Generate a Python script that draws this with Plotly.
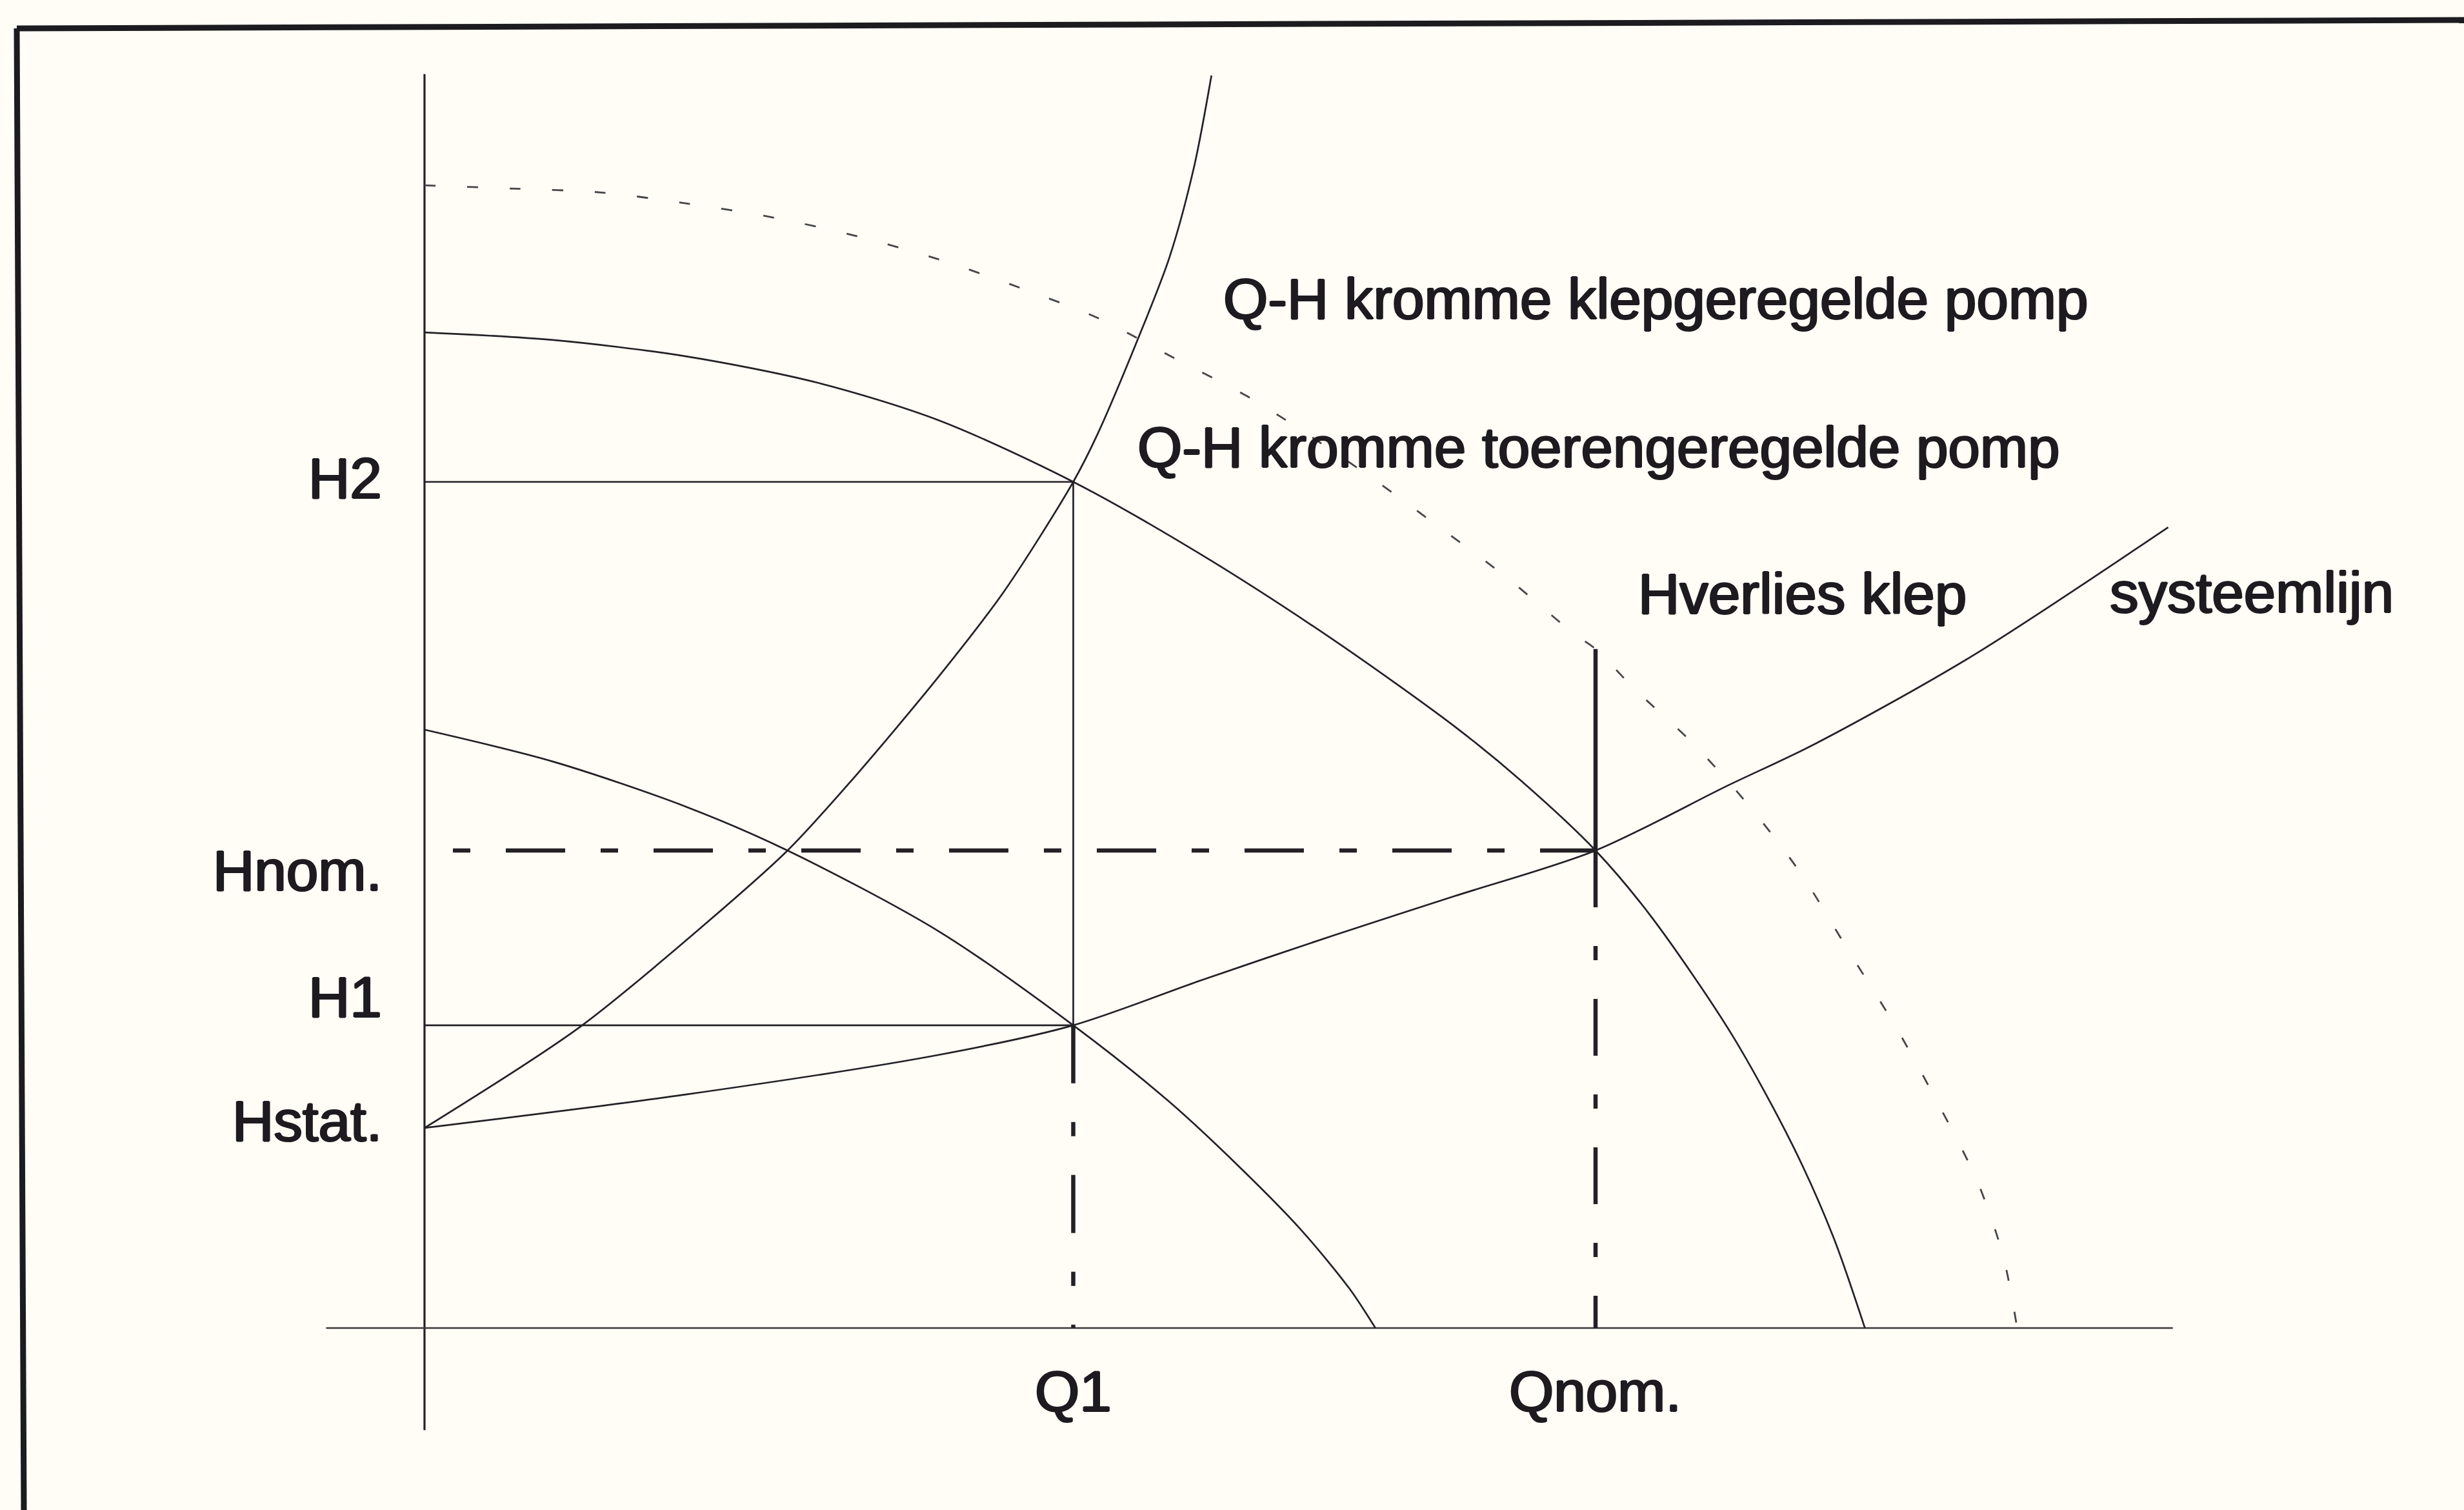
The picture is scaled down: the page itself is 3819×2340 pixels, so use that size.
import plotly.graph_objects as go

# Flow Q and head H in relative units (Qnom = 100, Hnom = 100)
Q_NOM = 100.0
H_NOM = 100.0
Q1 = 55.4
H1 = 63.4
H2 = 177.2
H_STAT = 41.9
H_VALVE_AT_QNOM = 142.2

# Q-H curve, speed-controlled pump (nominal speed)
speed_q = [0.0, 11.0, 22.3, 33.5, 43.9, 55.4, 66.3, 77.5, 87.9, 93.6, 100.0,
           104.8, 111.6, 116.8, 120.3, 123.0]
speed_h = [208.5, 206.9, 203.5, 198.0, 190.1, 177.2, 162.0, 144.3, 126.1, 114.7, 100.0,
           86.0, 61.6, 38.4, 19.1, 0.0]

# Q-H curve of the pump at reduced speed
low_q = [0.0, 11.0, 22.3, 31.0, 43.9, 55.4, 63.5, 69.1, 74.8, 79.0, 81.2]
low_h = [125.3, 118.6, 109.2, 100.0, 83.1, 63.4, 47.6, 34.9, 20.7, 8.2, 0.0]

# Q-H curve, valve-controlled pump
valve_q = [0.0, 7.7, 15.1, 22.4, 29.7, 37.0, 43.9, 50.9, 57.6, 64.1, 70.7, 79.8, 86.0,
           92.5, 98.1, 100.0, 103.3, 108.4, 113.2, 117.5, 121.7, 125.6, 129.1, 132.6,
           134.8, 136.0]
valve_h = [239.3, 238.6, 237.8, 235.5, 232.6, 228.6, 223.8, 217.8, 211.4, 203.0, 194.5,
           179.9, 168.9, 157.0, 145.5, 142.2, 133.9, 122.2, 109.1, 95.3, 78.6, 63.2,
           47.7, 30.7, 15.1, 0.0]

# System curve (systeemlijn)
system_q = [0.0, 22.3, 43.9, 55.4, 66.3, 77.6, 87.9, 100.0, 111.2, 118.8, 132.0, 148.9]
system_h = [41.9, 48.9, 57.2, 63.4, 72.8, 82.2, 90.4, 100.0, 113.5, 122.4, 140.5, 167.7]

# System curve with the valve throttled
throttled_q = [0.0, 13.3, 24.2, 31.0, 36.3, 43.9, 49.5, 55.4, 57.4, 61.0, 63.6, 65.7, 67.2]
throttled_h = [41.9, 63.1, 85.1, 100.0, 114.2, 136.4, 154.3, 177.2, 186.8, 207.6, 224.1,
               243.0, 262.3]

# Axis labels
h_labels = ["H2", "Hnom.", "H1", "Hstat."]
h_values = [H2, H_NOM, H1, H_STAT]
h_label_shift = [6, -31, 44, 11]
q_labels = ["Q1", "Qnom."]
q_values = [Q1, Q_NOM]

INK = "#232126"
TEXT_INK = "#1d1b20"
THIN = 2.7
THICK = 6.5
BG = "#fffdf6"
# a light outline thickens the regular face a little
TEXT_SHADOW = ", ".join(f"{dx}px {dy}px 0 {TEXT_INK}"
                        for dx, dy in [(1.4, 0), (-1.4, 0), (0, 1.2), (0, -1.2)])
FONT = dict(family="Liberation Sans, Arial, Helvetica, sans-serif", size=89,
            color=TEXT_INK, shadow=TEXT_SHADOW)

fig = go.Figure()


def line(x, y, width=THIN, dash="solid", color=INK, spline=False):
    fig.add_trace(go.Scatter(
        x=x, y=y, mode="lines", hoverinfo="skip", showlegend=False,
        line=dict(color=color, width=width, dash=dash,
                  shape="spline" if spline else "linear", smoothing=0.85),
    ))


# axes
line([0, 0], [-21.4, 262.6], width=3.2)
line([-8.4, 149.3], [0, 0], width=2.6, color="#3a3838")

# pump and system curves
line(speed_q, speed_h, spline=True)
line(low_q, low_h, spline=True)
line(valve_q, valve_h, width=2.8, dash="17px,49px", color="#474547", spline=True)
line(system_q, system_h, spline=True)
line(throttled_q, throttled_h, spline=True)

# reading lines
line([0, Q1], [H2, H2])
line([0, Q1], [H1, H1])
line([Q1, Q1], [H2, H1])
line([0, Q_NOM], [H_NOM, H_NOM], width=THICK, dash="0px,44px,27px,55px,92px,11px")
line([Q1, Q1], [H1, 0], width=THICK, dash="90px,60px,22px,60px")
line([Q_NOM, Q_NOM], [H_NOM, 0], width=THICK, dash="88px,60px,22px,60px")

# head loss over the valve
line([Q_NOM, Q_NOM], [H_VALVE_AT_QNOM, H_NOM], width=THICK)

annotations = []
for text, val, dy in zip(h_labels, h_values, h_label_shift):
    annotations.append(dict(x=0, y=val, text=text, showarrow=False, xanchor="right",
                            yanchor="middle", xshift=-64, yshift=dy, font=FONT))
for text, val in zip(q_labels, q_values):
    annotations.append(dict(x=val, y=0, text=text, showarrow=False, xanchor="center",
                            yanchor="middle", yshift=-98, font=FONT))

curve_labels = [
    ("Q-H kromme klepgeregelde pomp", 68.1, 215.5),
    ("Q-H kromme toerengeregelde pomp", 60.8, 184.5),
    ("Hverlies klep", 103.5, 153.8),
    ("systeemlijn", 143.8, 154.1),
]
for text, qx, hy in curve_labels:
    annotations.append(dict(x=qx, y=hy, text=text, showarrow=False, xanchor="left",
                            yanchor="middle", font=FONT))

# frame around the drawing
shapes = [
    dict(type="line", xref="paper", yref="paper", x0=26 / 3819, y0=1 - 44 / 2340,
         x1=1.0, y1=1 - 31 / 2340, line=dict(color="#1c1b1f", width=9)),
    dict(type="line", xref="paper", yref="paper", x0=26 / 3819, y0=1 - 44 / 2340,
         x1=37 / 3819, y1=0.0, line=dict(color="#1c1b1f", width=9)),
]

fig.update_layout(
    width=3819, height=2340, autosize=False,
    margin=dict(l=0, r=0, t=0, b=0, pad=0),
    paper_bgcolor=BG, plot_bgcolor=BG,
    xaxis=dict(range=[-36.25, 174.16], visible=False, fixedrange=True),
    yaxis=dict(range=[-38.11, 278.11], visible=False, fixedrange=True),
    annotations=annotations, shapes=shapes, showlegend=False,
)

fig.write_html("out.html", config={"displayModeBar": False})
